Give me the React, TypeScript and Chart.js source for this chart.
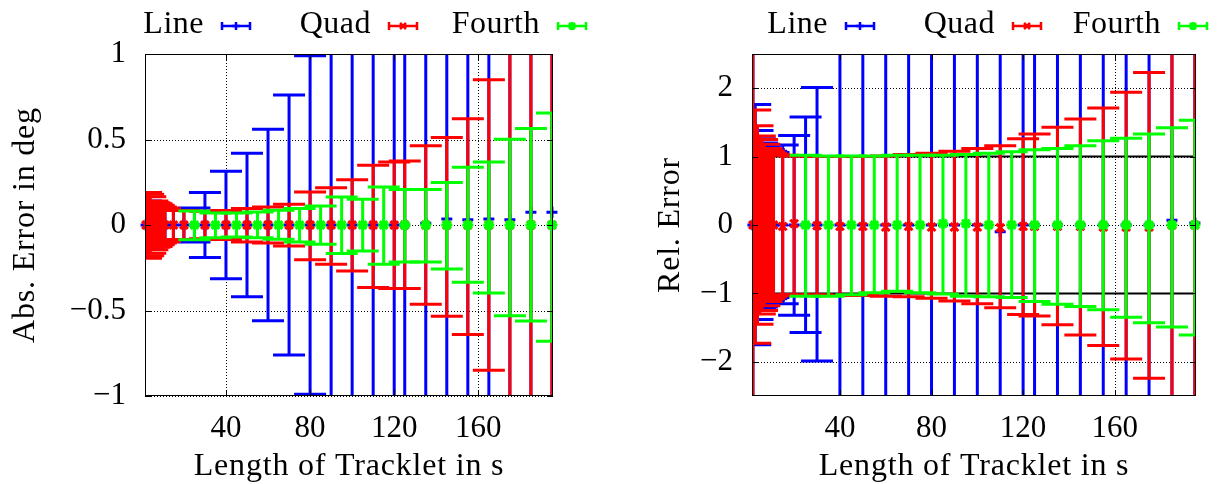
import React, { useEffect, useRef } from "react";
import { Chart, registerables } from "chart.js";

Chart.register(...registerables);

const FONT = '"Liberation Serif", "Times New Roman", serif';

// ---------- axes / labels ----------
const X_TICKS = [40, 80, 120, 160];
const X_TITLE = "Length of Tracklet in s";
const ABS_Y_TICKS = [-1, -0.5, 0, 0.5, 1];
const ABS_Y_LABELS = ["\u22121", "\u22120.5", "0", "0.5", "1"];
const REL_Y_TICKS = [-2, -1, 0, 1, 2];
const REL_Y_LABELS = ["\u22122", "\u22121", "0", "1", "2"];
const REL_REF_LINES = [-1, 1];

const SERIES_NAMES = ["Line", "Quad", "Fourth"];
const SERIES_COLORS = ["#0000ff", "#ff0000", "#00ff00"];
const POINT_STYLES = ["cross", "crossRot", "star"];

// ---------- x positions (shared by both panels) ----------
const LINE_X = [2, 3, 4, 5, 6, 7, 8, 9, 10, 11, 15, 20, 25, 30, 40, 50, 60, 70, 80, 90, 100, 110, 120, 125, 135, 145, 155, 165, 175, 185, 195];
const QUAD_X = [2, 3, 4, 5, 6, 7, 8, 9, 10, 11, 15, 20, 30, 40, 50, 60, 70, 80, 90, 100, 110, 120, 125, 135, 145, 155, 165, 175, 185, 195];
const FOURTH_X = [25, 35, 45, 55, 65, 75, 85, 95, 105, 115, 125, 135, 145, 155, 165, 175, 185, 195];

// ---------- absolute error panel ----------
const ABS_LINE_Y = [0, 0, 0, 0, 0, 0, 0, 0, 0, 0, 0, 0, 0, 0, 0, 0, 0, 0, 0, 0, 0, 0, 0, 0, 0.01, 0.035, 0.03, 0.035, 0.03, 0.075, 0.075];
const ABS_LINE_HIGH = [0.14, 0.13, 0.12, 0.11, 0.1, 0.1, 0.095, 0.09, 0.09, 0.09, 0.09, 0.095, 0.1, 0.19, 0.315, 0.42, 0.56, 0.76, 0.99, 1.3, 1.6, 1.9, 2.2, 2.4, 2.9, 3.4, 4.0, 4.8, 5.5, 6.5, 7.5];
const ABS_LINE_LOW = [-0.14, -0.13, -0.12, -0.11, -0.1, -0.1, -0.095, -0.09, -0.09, -0.09, -0.09, -0.095, -0.1, -0.19, -0.315, -0.42, -0.56, -0.76, -0.99, -1.3, -1.6, -1.9, -2.2, -2.4, -2.9, -3.4, -4.0, -4.8, -5.5, -6.5, -7.5];

const ABS_QUAD_Y = [0, 0, 0, 0, 0, 0, 0, 0, 0, 0, 0, 0, 0, 0, 0, 0, 0, 0, 0, 0, 0, 0, 0, 0, 0, 0, 0, 0, 0, 0];
const ABS_QUAD_HIGH = [0.19, 0.18, 0.165, 0.14, 0.13, 0.125, 0.115, 0.105, 0.1, 0.095, 0.085, 0.085, 0.08, 0.085, 0.096, 0.105, 0.121, 0.193, 0.218, 0.265, 0.349, 0.369, 0.375, 0.464, 0.511, 0.622, 0.85, 1.6, 2.0, 2.4];
const ABS_QUAD_LOW = [-0.195, -0.18, -0.165, -0.145, -0.13, -0.125, -0.115, -0.105, -0.1, -0.095, -0.085, -0.085, -0.08, -0.085, -0.1, -0.105, -0.123, -0.203, -0.23, -0.269, -0.366, -0.372, -0.372, -0.464, -0.534, -0.641, -0.85, -1.6, -2.0, -2.4];

const ABS_FOURTH_Y = [0, 0, 0, 0, 0, 0, 0, 0, 0, 0, 0, 0, 0, 0, 0, 0, 0, 0];
const ABS_FOURTH_HIGH = [0.082, 0.07, 0.07, 0.076, 0.086, 0.096, 0.111, 0.164, 0.15, 0.222, 0.207, 0.207, 0.248, 0.337, 0.369, 0.501, 0.565, 0.655];
const ABS_FOURTH_LOW = [-0.086, -0.074, -0.07, -0.074, -0.084, -0.1, -0.113, -0.167, -0.152, -0.23, -0.216, -0.216, -0.257, -0.335, -0.398, -0.53, -0.561, -0.68];

// ---------- relative error panel ----------
const REL_LINE_Y = [0, 0, 0, 0, 0, 0, 0, 0, 0, 0, 0, 0, 0, 0, 0, 0, 0, 0, 0, 0, 0, -0.1, 0, 0, 0, 0, 0, 0, 0, 0.07, 0.03];
const REL_LINE_HIGH = [5, 1.76, 1.38, 1.26, 1.2, 1.15, 1.12, 1.1, 1.08, 1.06, 1.17, 1.31, 1.58, 2.01, 3, 3.2, 3.5, 3.8, 4, 4.3, 4.6, 5, 5.3, 5.5, 6, 6.5, 7, 7.5, 8, 9, 10];
const REL_LINE_LOW = [-5, -1.75, -1.38, -1.22, -1.2, -1.15, -1.12, -1.1, -1.08, -1.06, -1.15, -1.32, -1.57, -1.99, -3, -3.2, -3.5, -3.8, -4, -4.3, -4.6, -5, -5.3, -5.5, -6, -6.5, -7, -7.5, -8, -9, -10];

const REL_QUAD_Y = [0, 0, 0, 0, 0, 0, 0, 0, 0, 0, -0.02, 0.02, -0.01, -0.02, -0.02, -0.03, -0.02, -0.03, -0.03, -0.03, -0.04, -0.02, -0.02, -0.02, -0.02, -0.03, -0.03, -0.03, 0, 0];
const REL_QUAD_HIGH = [5, 1.68, 1.45, 1.3, 1.25, 1.18, 1.12, 1.08, 1.05, 1.03, 1.02, 1.01, 1.0, 1.0, 1.0, 1.01, 1.03, 1.05, 1.08, 1.12, 1.16, 1.26, 1.33, 1.43, 1.55, 1.71, 1.94, 2.23, 3.5, 4];
const REL_QUAD_LOW = [-5, -1.73, -1.45, -1.3, -1.25, -1.18, -1.12, -1.08, -1.05, -1.03, -1.02, -1.02, -1.02, -1.03, -1.03, -1.04, -1.05, -1.07, -1.11, -1.15, -1.21, -1.31, -1.33, -1.46, -1.61, -1.76, -1.96, -2.24, -3.5, -4];

const REL_FOURTH_Y = [0, 0, 0, 0, 0, 0, 0.02, 0.02, 0, 0, 0, 0, 0, 0, 0, 0, 0, 0];
const REL_FOURTH_HIGH = [1.02, 1.01, 1.01, 1.01, 1.02, 1.02, 1.02, 1.03, 1.05, 1.07, 1.1, 1.12, 1.16, 1.23, 1.27, 1.33, 1.42, 1.53];
const REL_FOURTH_LOW = [-1.04, -1.04, -1.02, -0.99, -0.97, -0.99, -1.01, -1.04, -1.05, -1.06, -1.12, -1.16, -1.19, -1.24, -1.35, -1.43, -1.49, -1.61];

type Series = { x: number[]; y: number[]; low: number[]; high: number[] };
type PanelSpec = {
  xMin: number;
  xMax: number;
  yMin: number;
  yMax: number;
  yTicks: number[];
  yLabels: string[];
  yTitle: string;
  refLines: number[];
  series: Series[];
  canvasLeft: number;
  width: number;
  axisWidth: number;
  padRight: number;
  yTitleX: number;
  legendX: number[];
};

const HEIGHT = 484;
const TOP = 54;
const XAXIS_H = 88;
const CAP = 16;

function drawMarker(ctx: CanvasRenderingContext2D, style: string, x: number, y: number, r: number) {
  ctx.beginPath();
  if (style === "cross" || style === "star") {
    ctx.moveTo(x - r, y);
    ctx.lineTo(x + r, y);
    ctx.moveTo(x, y - r);
    ctx.lineTo(x, y + r);
  }
  if (style === "crossRot" || style === "star") {
    const d = r * 0.75;
    ctx.moveTo(x - d, y - d);
    ctx.lineTo(x + d, y + d);
    ctx.moveTo(x - d, y + d);
    ctx.lineTo(x + d, y - d);
  }
  ctx.stroke();
}

function Panel({ spec }: { spec: PanelSpec }) {
  const ref = useRef<HTMLCanvasElement | null>(null);

  useEffect(() => {
    const canvas = ref.current;
    if (!canvas) return;

    const errPlugin = {
      id: "errBars",
      beforeDatasetDraw(chart: any, args: any) {
        const s = spec.series[args.index];
        if (!s) return;
        const { ctx, chartArea: a } = chart;
        const xs = chart.scales.x;
        const ys = chart.scales.y;
        ctx.save();
        ctx.beginPath();
        ctx.rect(a.left, a.top, a.right - a.left, a.bottom - a.top);
        ctx.clip();
        ctx.strokeStyle = SERIES_COLORS[args.index];
        ctx.lineWidth = 3;
        ctx.lineCap = "butt";
        for (let j = 0; j < s.x.length; j++) {
          const px = xs.getPixelForValue(s.x[j]);
          const lo = ys.getPixelForValue(s.low[j]);
          const hi = ys.getPixelForValue(s.high[j]);
          ctx.beginPath();
          ctx.moveTo(px, lo);
          ctx.lineTo(px, hi);
          ctx.moveTo(px - CAP, lo);
          ctx.lineTo(px + CAP, lo);
          ctx.moveTo(px - CAP, hi);
          ctx.lineTo(px + CAP, hi);
          ctx.stroke();
        }
        ctx.restore();
      },
    };

    const framePlugin = {
      id: "gnuFrame",
      beforeDatasetsDraw(chart: any) {
        const { ctx, chartArea: a } = chart;
        const xs = chart.scales.x;
        const ys = chart.scales.y;
        ctx.save();
        ctx.strokeStyle = "#000";
        ctx.lineWidth = 1;
        ctx.setLineDash([1, 2]);
        ctx.beginPath();
        for (const v of X_TICKS) {
          const p = Math.round(xs.getPixelForValue(v)) + 0.5;
          ctx.moveTo(p, a.top);
          ctx.lineTo(p, a.bottom);
        }
        for (const v of spec.yTicks) {
          const p = Math.round(ys.getPixelForValue(v)) + 0.5;
          ctx.moveTo(a.left, p);
          ctx.lineTo(a.right, p);
        }
        ctx.stroke();
        ctx.setLineDash([]);
        ctx.lineWidth = 2;
        ctx.beginPath();
        for (const v of spec.refLines) {
          const p = ys.getPixelForValue(v);
          ctx.moveTo(a.left, p);
          ctx.lineTo(a.right, p);
        }
        ctx.stroke();
        ctx.restore();
      },
      afterDatasetsDraw(chart: any) {
        const { ctx, chartArea: a } = chart;
        const xs = chart.scales.x;
        const ys = chart.scales.y;
        ctx.save();
        ctx.strokeStyle = "#000";
        ctx.lineWidth = 1;
        ctx.strokeRect(Math.round(a.left) + 0.5, Math.round(a.top) + 0.5, Math.round(a.right - a.left) - 1, Math.round(a.bottom - a.top) - 1);
        ctx.beginPath();
        const t = 6;
        for (const v of X_TICKS) {
          const p = Math.round(xs.getPixelForValue(v)) + 0.5;
          ctx.moveTo(p, a.bottom);
          ctx.lineTo(p, a.bottom - t);
          ctx.moveTo(p, a.top);
          ctx.lineTo(p, a.top + t);
        }
        for (const v of spec.yTicks) {
          const p = Math.round(ys.getPixelForValue(v)) + 0.5;
          ctx.moveTo(a.left, p);
          ctx.lineTo(a.left + t, p);
          ctx.moveTo(a.right, p);
          ctx.lineTo(a.right - t, p);
        }
        ctx.stroke();
        ctx.restore();
      },
      afterDraw(chart: any) {
        const { ctx, chartArea: a } = chart;
        ctx.save();
        ctx.fillStyle = "#000";
        ctx.font = `32px ${FONT}`;
        // x title
        ctx.textAlign = "center";
        ctx.textBaseline = "alphabetic";
        (ctx as any).letterSpacing = "0.8px";
        ctx.fillText(X_TITLE, (a.left + a.right) / 2, 475);
        // y title
        ctx.save();
        ctx.translate(spec.yTitleX, (a.top + a.bottom) / 2);
        ctx.rotate(-Math.PI / 2);
        ctx.fillText(spec.yTitle, 0, 0);
        ctx.restore();
        (ctx as any).letterSpacing = "0.5px";
        // legend
        for (let i = 0; i < SERIES_NAMES.length; i++) {
          const x1 = spec.legendX[i];
          const x2 = x1 + 28;
          const y = 26;
          ctx.textAlign = "right";
          ctx.fillStyle = "#000";
          ctx.fillText(SERIES_NAMES[i], x1 - 18, 33);
          ctx.strokeStyle = SERIES_COLORS[i];
          ctx.lineWidth = 2.5;
          ctx.beginPath();
          ctx.moveTo(x1, y);
          ctx.lineTo(x2, y);
          ctx.moveTo(x1, y - 4);
          ctx.lineTo(x1, y + 4);
          ctx.moveTo(x2, y - 4);
          ctx.lineTo(x2, y + 4);
          ctx.stroke();
          drawMarker(ctx, POINT_STYLES[i], (x1 + x2) / 2, y, 4);
        }
        ctx.restore();
      },
    };

    const chart = new Chart(canvas, {
      type: "scatter",
      data: {
        datasets: spec.series.map((s, i) => ({
          label: SERIES_NAMES[i],
          data: s.x.map((xv, j) => ({ x: xv, y: s.y[j] })),
          showLine: false,
          pointStyle: POINT_STYLES[i] as any,
          pointRadius: 5.5,
          pointHoverRadius: 5.5,
          pointBorderWidth: 3,
          borderColor: SERIES_COLORS[i],
          backgroundColor: SERIES_COLORS[i],
          order: 3 - i,
          clip: false as any,
        })),
      },
      options: {
        animation: false,
        responsive: false,
        events: [],
        layout: { padding: { left: 0, right: spec.padRight, top: TOP, bottom: 0 } },
        plugins: { legend: { display: false }, tooltip: { enabled: false } },
        scales: {
          x: {
            type: "linear",
            min: spec.xMin,
            max: spec.xMax,
            bounds: "data",
            afterBuildTicks: (sc: any) => {
              sc.ticks = X_TICKS.map((v) => ({ value: v }));
            },
            afterFit: (sc: any) => {
              sc.height = XAXIS_H;
            },
            grid: { display: false, drawTicks: false },
            border: { display: false },
            ticks: { font: { family: FONT, size: 31 }, color: "#000", padding: 14, maxRotation: 0, autoSkip: false },
          },
          y: {
            type: "linear",
            min: spec.yMin,
            max: spec.yMax,
            bounds: "data",
            afterBuildTicks: (sc: any) => {
              sc.ticks = spec.yTicks.map((v) => ({ value: v }));
            },
            afterFit: (sc: any) => {
              sc.width = spec.axisWidth;
            },
            grid: { display: false, drawTicks: false },
            border: { display: false },
            ticks: {
              font: { family: FONT, size: 31 },
              color: "#000",
              padding: 19,
              autoSkip: false,
              callback: (v: any) => {
                const i = spec.yTicks.indexOf(Number(v));
                return i >= 0 ? spec.yLabels[i] : "";
              },
            },
          },
        },
      },
      plugins: [errPlugin, framePlugin],
    } as any);

    return () => chart.destroy();
  }, [spec]);

  return (
    <canvas
      ref={ref}
      width={spec.width}
      height={HEIGHT}
      style={{ position: "absolute", left: spec.canvasLeft, top: 0, width: spec.width, height: HEIGHT, display: "block" }}
    />
  );
}

const ABS_SPEC: PanelSpec = {
  xMin: 1.5,
  xMax: 195.5,
  yMin: -1,
  yMax: 1,
  yTicks: ABS_Y_TICKS,
  yLabels: ABS_Y_LABELS,
  yTitle: "Abs. Error in deg",
  refLines: [],
  series: [
    { x: LINE_X, y: ABS_LINE_Y, low: ABS_LINE_LOW, high: ABS_LINE_HIGH },
    { x: QUAD_X, y: ABS_QUAD_Y, low: ABS_QUAD_LOW, high: ABS_QUAD_HIGH },
    { x: FOURTH_X, y: ABS_FOURTH_Y, low: ABS_FOURTH_LOW, high: ABS_FOURTH_HIGH },
  ],
  canvasLeft: 0,
  width: 600,
  axisWidth: 145,
  padRight: 47,
  yTitleX: 34,
  legendX: [222, 389, 558],
};

const REL_SPEC: PanelSpec = {
  xMin: 1.6,
  xMax: 195.5,
  yMin: -2.5,
  yMax: 2.5,
  yTicks: REL_Y_TICKS,
  yLabels: REL_Y_LABELS,
  yTitle: "Rel. Error",
  refLines: REL_REF_LINES,
  series: [
    { x: LINE_X, y: REL_LINE_Y, low: REL_LINE_LOW, high: REL_LINE_HIGH },
    { x: QUAD_X, y: REL_QUAD_Y, low: REL_QUAD_LOW, high: REL_QUAD_HIGH },
    { x: FOURTH_X, y: REL_FOURTH_Y, low: REL_FOURTH_LOW, high: REL_FOURTH_HIGH },
  ],
  canvasLeft: 600,
  width: 619,
  axisWidth: 152,
  padRight: 23,
  yTitleX: 79,
  legendX: [246, 413, 579],
};

export default function App() {
  return (
    <div style={{ position: "absolute", left: 0, top: 0, width: 1219, height: HEIGHT, background: "#fff", overflow: "hidden" }}>
      <Panel spec={ABS_SPEC} />
      <Panel spec={REL_SPEC} />
    </div>
  );
}
